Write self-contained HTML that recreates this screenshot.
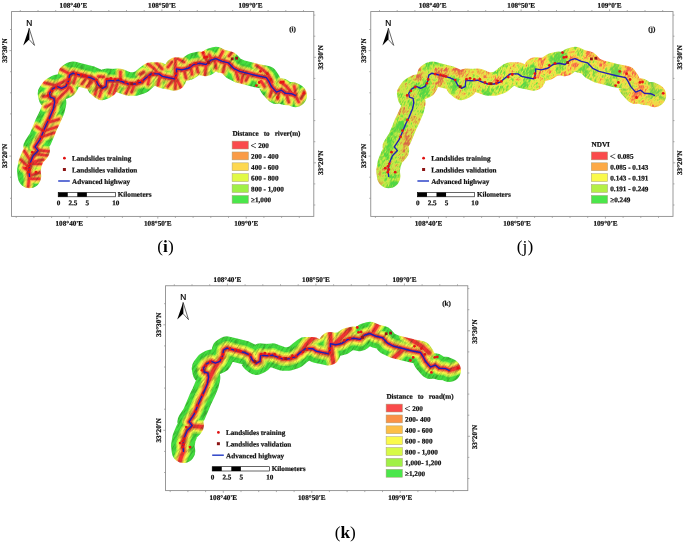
<!DOCTYPE html>
<html><head><meta charset="utf-8"><title>Figure</title>
<style>
html,body{margin:0;padding:0;background:#fff}
svg{display:block}
.lb{font:bold 7.2px "Liberation Serif",serif;fill:#111;stroke:#111;stroke-width:0.22px}
.lg{font:bold 7.15px "Liberation Serif",serif;fill:#111;stroke:#111;stroke-width:0.22px}
.ltt{font-weight:normal;font-size:10.5px;stroke-width:0.1px}
.cap{font:17.3px "Liberation Serif",serif;fill:#000}
.cap .b{font-weight:bold}
</style></head><body>
<svg width="685" height="542" viewBox="0 0 685 542">
<defs>
<mask id="bufmask" maskUnits="userSpaceOnUse" x="0" y="0" width="330" height="230">
<path d="M29.5,176.4 L28.8,170.7 L30.1,163.2 L33.2,155.7 L38.2,150.6 L35.1,146.9 L40.1,139.3 L43.3,131.8 L46.4,124.3 L49.5,118.0 L53.3,109.0 L54.6,102.7 L53.9,98.3 L50.2,97.1 L49.5,93.3 L52.7,88.9 L57.1,86.4 L61.5,88.3 L65.9,86.4 L68.4,81.4 L69.6,75.1 L72.8,73.2 L80.3,75.1 L90.4,77.6 L96.0,80.2 L98.5,85.2 L102.3,88.3 L106.0,86.5 L106.7,80.2 L112.3,80.8 L118.6,80.2 L123.0,82.0 L128.6,84.0 L135.0,84.0 L141.2,82.0 L146.2,77.7 L151.2,73.9 L158.8,73.9 L162.5,76.4 L168.8,77.7 L174.5,78.9 L176.4,73.9 L176.4,68.9 L182.0,69.9 L188.3,68.3 L193.9,64.5 L199.6,63.3 L205.9,64.5 L210.9,60.1 L215.9,58.6 L222.2,61.4 L228.5,62.9 L233.5,68.3 L239.8,71.4 L249.8,73.9 L257.3,75.8 L266.4,77.6 L268.9,81.4 L271.4,86.4 L276.4,92.1 L281.4,90.2 L285.2,93.3 L291.5,93.7 L295.2,95.4" fill="none" stroke="#fff" stroke-width="23.5" stroke-linecap="round" stroke-linejoin="round"/>
</mask>
<filter id="bl" x="-5%" y="-5%" width="110%" height="110%"><feGaussianBlur stdDeviation="0.55"/></filter>
<linearGradient id="jbias" gradientUnits="userSpaceOnUse" x1="20" y1="0" x2="300" y2="0">
<stop offset="0" stop-color="#46d23c" stop-opacity="0.22"/>
<stop offset="0.45" stop-color="#8cdc3c" stop-opacity="0.05"/>
<stop offset="0.6" stop-color="#f0c846" stop-opacity="0.08"/>
<stop offset="1" stop-color="#f5b446" stop-opacity="0.22"/>
</linearGradient>
<pattern id="hatch" width="3" height="3" patternUnits="userSpaceOnUse" patternTransform="rotate(35)">
<rect width="3" height="1" fill="#000" opacity="0.07"/>
</pattern>
<filter id="shade" x="0" y="0" width="100%" height="100%" color-interpolation-filters="sRGB">
<feTurbulence type="fractalNoise" baseFrequency="0.55 0.14" numOctaves="2" seed="8"/>
<feColorMatrix type="matrix" values="0 0 0 0 0.1  0 0 0 0 0.25  0 0 0 0 0.05  1.15 0 0 0 -0.49"/>
</filter>
<filter id="ndvi" x="0" y="0" width="100%" height="100%" color-interpolation-filters="sRGB">
<feTurbulence type="fractalNoise" baseFrequency="0.07 0.06" numOctaves="2" seed="3"/>
<feColorMatrix type="matrix" values="1 0 0 0 0  1 0 0 0 0  1 0 0 0 0  0 0 0 0 1" result="lo"/>
<feTurbulence type="fractalNoise" baseFrequency="0.75 0.28" numOctaves="2" seed="11"/>
<feColorMatrix type="matrix" values="1 0 0 0 0  1 0 0 0 0  1 0 0 0 0  0 0 0 0 1" result="hi"/>
<feComposite in="lo" in2="hi" operator="arithmetic" k1="0" k2="1.3" k3="1.0" k4="-0.62"/>
<feComponentTransfer>
<feFuncR type="table" tableValues="0.96 0.96 0.97 0.98 0.97 0.92 0.76 0.58 0.40 0.33 0.30"/>
<feFuncG type="table" tableValues="0.30 0.32 0.45 0.64 0.84 0.94 0.92 0.88 0.85 0.84 0.84"/>
<feFuncB type="table" tableValues="0.30 0.30 0.28 0.27 0.29 0.29 0.27 0.26 0.27 0.28 0.28"/>
<feFuncA type="linear" slope="0" intercept="1"/>
</feComponentTransfer>
</filter>
</defs>
<rect width="685" height="542" fill="#fff"/>
<g transform="translate(0,0)">
<rect x="11.55" y="11.55" width="302.25" height="204.85" fill="#fff" stroke="#8e8e8e" stroke-width="0.9"/>
<path d="M20.3,11.55 v-1.5 M16.2,216.4 v1.5 M38.0,11.55 v-1.5 M33.9,216.4 v1.5 M55.7,11.55 v-1.5 M51.6,216.4 v1.5 M73.4,11.55 v-2.2 M69.3,216.4 v2.2 M91.1,11.55 v-1.5 M87.0,216.4 v1.5 M108.8,11.55 v-1.5 M104.7,216.4 v1.5 M126.5,11.55 v-1.5 M122.4,216.4 v1.5 M144.2,11.55 v-1.5 M140.1,216.4 v1.5 M161.9,11.55 v-2.2 M157.8,216.4 v2.2 M179.6,11.55 v-1.5 M175.4,216.4 v1.5 M197.3,11.55 v-1.5 M193.1,216.4 v1.5 M215.0,11.55 v-1.5 M210.8,216.4 v1.5 M232.7,11.55 v-1.5 M228.5,216.4 v1.5 M250.4,11.55 v-2.2 M246.2,216.4 v2.2 M268.1,11.55 v-1.5 M263.9,216.4 v1.5 M285.8,11.55 v-1.5 M281.6,216.4 v1.5 M303.5,11.55 v-1.5 M299.3,216.4 v1.5 M11.55,29.5 h-1.5 M11.55,50.6 h-2.2 M11.55,71.7 h-1.5 M11.55,92.8 h-1.5 M11.55,113.9 h-1.5 M11.55,135.0 h-1.5 M11.55,156.1 h-2.2 M11.55,177.2 h-1.5 M11.55,198.3 h-1.5 M313.8,15.1 h1.5 M313.8,36.2 h1.5 M313.8,57.3 h2.2 M313.8,78.4 h1.5 M313.8,99.5 h1.5 M313.8,120.6 h1.5 M313.8,141.7 h1.5 M313.8,162.8 h2.2 M313.8,183.9 h1.5 M313.8,205.0 h1.5" stroke="#8e8e8e" stroke-width="0.7" fill="none"/>
<text class="lb" text-anchor="middle" transform="translate(73.4,7.8) rotate(0.03)">108°40'E</text>
<text class="lb" text-anchor="middle" transform="translate(69.3,225.7) rotate(0.03)">108°40'E</text>
<text class="lb" text-anchor="middle" transform="translate(161.9,7.8) rotate(0.03)">108°50'E</text>
<text class="lb" text-anchor="middle" transform="translate(157.8,225.7) rotate(0.03)">108°50'E</text>
<text class="lb" text-anchor="middle" transform="translate(250.4,7.8) rotate(0.03)">109°0'E</text>
<text class="lb" text-anchor="middle" transform="translate(246.2,225.7) rotate(0.03)">109°0'E</text>
<text class="lb" text-anchor="middle" transform="translate(6.9,50.6) rotate(-90) rotate(0.03)">33°30'N</text>
<text class="lb" text-anchor="middle" transform="translate(322.9,57.3) rotate(-90) rotate(0.03)">33°30'N</text>
<text class="lb" text-anchor="middle" transform="translate(6.9,156.1) rotate(-90) rotate(0.03)">33°20'N</text>
<text class="lb" text-anchor="middle" transform="translate(322.9,162.8) rotate(-90) rotate(0.03)">33°20'N</text>
<g transform="translate(0,0)">
<g mask="url(#bufmask)">
<rect x="10" y="40" width="300" height="155" fill="#44de40"/>
<g filter="url(#bl)" fill="none" stroke-linecap="round" stroke-linejoin="round">
<path d="M29.5,176.4 L28.8,170.7 L30.1,163.2 L33.2,155.7 L38.2,150.6 L35.1,146.9 L40.1,139.3 L43.3,131.8 L46.4,124.3 L49.5,118.0 L53.3,109.0 L54.6,102.7 L53.9,98.3 L50.2,97.1 L49.5,93.3 L52.7,88.9 L57.1,86.4 L61.5,88.3 L65.9,86.4 L68.4,81.4 L69.6,75.1 L72.8,73.2 L80.3,75.1 L90.4,77.6 L96.0,80.2 L98.5,85.2 L102.3,88.3 L106.0,86.5 L106.7,80.2 L112.3,80.8 L118.6,80.2 L123.0,82.0 L128.6,84.0 L135.0,84.0 L141.2,82.0 L146.2,77.7 L151.2,73.9 L158.8,73.9 L162.5,76.4 L168.8,77.7 L174.5,78.9 L176.4,73.9 L176.4,68.9 L182.0,69.9 L188.3,68.3 L193.9,64.5 L199.6,63.3 L205.9,64.5 L210.9,60.1 L215.9,58.6 L222.2,61.4 L228.5,62.9 L233.5,68.3 L239.8,71.4 L249.8,73.9 L257.3,75.8 L266.4,77.6 L268.9,81.4 L271.4,86.4 L276.4,92.1 L281.4,90.2 L285.2,93.3 L291.5,93.7 L295.2,95.4" stroke="#a0f046" stroke-width="12.6"/>
<path d="M59.9,68.8 L68.7,73.3 M44.4,82.7 L55.5,85.4 L63.0,82.0 L68.0,79.0 M43.3,96.5 L49.9,96.0 M69.9,87.1 L57.7,99.3 L56.6,102.6 M45.5,107.0 L52.1,103.7 M71.0,88.2 L72.0,91.5 M85.4,79.4 L82.0,83.8 M76.0,76.0 L73.5,83.0 M91.0,78.5 L88.5,86.0 M48.7,122.2 L58.7,119.4 M44.3,131.0 L57.6,126.6 M42.1,136.6 L54.3,132.7 M43.2,131.0 L36.6,126.6 M37.4,150.0 L49.3,151.5 M37.7,154.3 L47.6,155.4 M24.4,151.0 L29.9,159.8 L31.0,165.4 M21.0,159.8 L26.6,165.4 M32.1,162.0 L43.2,159.8 M29.4,175.4 L28.2,186.5 M31.6,163.8 L41.5,163.8 M30.5,175.4 L41.5,172.0 M29.4,178.7 L39.3,178.7 M23.8,167.7 L28.8,171.0 M120.4,72.0 L120.4,79.0 M98.3,76.6 L103.8,77.1 M91.6,82.1 L87.2,86.5 M97.2,87.6 L95.0,94.3 M101.6,89.9 L99.4,96.5 M112.7,84.3 L109.4,93.2 M117.1,84.3 L113.8,94.3 M129.3,86.5 L126.0,93.2 M133.7,86.5 L131.5,92.1 M140.4,74.4 L143.7,72.1 M147.7,63.8 L154.4,68.8 L157.7,73.2 M156.6,63.2 L162.1,68.8 M175.4,57.7 L175.4,88.7 M172.0,62.0 L168.0,67.0 M178.0,59.0 L184.0,62.0 M174.3,78.8 L167.7,86.5 M176.5,78.8 L181.0,87.6 M190.9,66.6 L192.0,74.3 M202.7,52.7 L207.2,61.6 M209.4,55.0 L211.6,59.4 M222.7,51.6 L219.4,58.2 M215.0,60.5 L216.0,68.2 M206.0,66.0 L205.0,74.9 M225.0,64.0 L223.0,72.0 M229.0,56.0 L233.0,51.0 M236.0,71.5 L238.2,79.3 M243.0,74.0 L241.5,82.0 M249.2,73.7 L246.0,80.4 M256.6,65.5 L264.4,71.0 L268.8,75.5 L272.1,82.1 M261.0,81.0 L264.4,86.5 M272.1,88.7 L270.0,96.5 M278.8,92.1 L277.7,98.7 M281.0,82.1 L286.5,86.5 L291.0,92.1 M294.3,86.5 L295.4,94.3 M295.4,95.4 L298.7,102.0 M304.2,92.1 L301.0,98.7 M286.5,94.3 L288.7,102.0 M150.0,75.0 L148.0,84.0 M160.0,75.5 L158.0,85.0 M184.0,70.0 L186.0,78.0 M196.0,64.0 L198.0,72.0" stroke="#a0f046" stroke-width="10.7"/>
<path d="M29.5,176.4 L28.8,170.7 L30.1,163.2 L33.2,155.7 L38.2,150.6 L35.1,146.9 L40.1,139.3 L43.3,131.8 L46.4,124.3 L49.5,118.0 L53.3,109.0 L54.6,102.7 L53.9,98.3 L50.2,97.1 L49.5,93.3 L52.7,88.9 L57.1,86.4 L61.5,88.3 L65.9,86.4 L68.4,81.4 L69.6,75.1 L72.8,73.2 L80.3,75.1 L90.4,77.6 L96.0,80.2 L98.5,85.2 L102.3,88.3 L106.0,86.5 L106.7,80.2 L112.3,80.8 L118.6,80.2 L123.0,82.0 L128.6,84.0 L135.0,84.0 L141.2,82.0 L146.2,77.7 L151.2,73.9 L158.8,73.9 L162.5,76.4 L168.8,77.7 L174.5,78.9 L176.4,73.9 L176.4,68.9 L182.0,69.9 L188.3,68.3 L193.9,64.5 L199.6,63.3 L205.9,64.5 L210.9,60.1 L215.9,58.6 L222.2,61.4 L228.5,62.9 L233.5,68.3 L239.8,71.4 L249.8,73.9 L257.3,75.8 L266.4,77.6 L268.9,81.4 L271.4,86.4 L276.4,92.1 L281.4,90.2 L285.2,93.3 L291.5,93.7 L295.2,95.4" stroke="#e1fa46" stroke-width="10.6"/>
<path d="M59.9,68.8 L68.7,73.3 M44.4,82.7 L55.5,85.4 L63.0,82.0 L68.0,79.0 M43.3,96.5 L49.9,96.0 M69.9,87.1 L57.7,99.3 L56.6,102.6 M45.5,107.0 L52.1,103.7 M71.0,88.2 L72.0,91.5 M85.4,79.4 L82.0,83.8 M76.0,76.0 L73.5,83.0 M91.0,78.5 L88.5,86.0 M48.7,122.2 L58.7,119.4 M44.3,131.0 L57.6,126.6 M42.1,136.6 L54.3,132.7 M43.2,131.0 L36.6,126.6 M37.4,150.0 L49.3,151.5 M37.7,154.3 L47.6,155.4 M24.4,151.0 L29.9,159.8 L31.0,165.4 M21.0,159.8 L26.6,165.4 M32.1,162.0 L43.2,159.8 M29.4,175.4 L28.2,186.5 M31.6,163.8 L41.5,163.8 M30.5,175.4 L41.5,172.0 M29.4,178.7 L39.3,178.7 M23.8,167.7 L28.8,171.0 M120.4,72.0 L120.4,79.0 M98.3,76.6 L103.8,77.1 M91.6,82.1 L87.2,86.5 M97.2,87.6 L95.0,94.3 M101.6,89.9 L99.4,96.5 M112.7,84.3 L109.4,93.2 M117.1,84.3 L113.8,94.3 M129.3,86.5 L126.0,93.2 M133.7,86.5 L131.5,92.1 M140.4,74.4 L143.7,72.1 M147.7,63.8 L154.4,68.8 L157.7,73.2 M156.6,63.2 L162.1,68.8 M175.4,57.7 L175.4,88.7 M172.0,62.0 L168.0,67.0 M178.0,59.0 L184.0,62.0 M174.3,78.8 L167.7,86.5 M176.5,78.8 L181.0,87.6 M190.9,66.6 L192.0,74.3 M202.7,52.7 L207.2,61.6 M209.4,55.0 L211.6,59.4 M222.7,51.6 L219.4,58.2 M215.0,60.5 L216.0,68.2 M206.0,66.0 L205.0,74.9 M225.0,64.0 L223.0,72.0 M229.0,56.0 L233.0,51.0 M236.0,71.5 L238.2,79.3 M243.0,74.0 L241.5,82.0 M249.2,73.7 L246.0,80.4 M256.6,65.5 L264.4,71.0 L268.8,75.5 L272.1,82.1 M261.0,81.0 L264.4,86.5 M272.1,88.7 L270.0,96.5 M278.8,92.1 L277.7,98.7 M281.0,82.1 L286.5,86.5 L291.0,92.1 M294.3,86.5 L295.4,94.3 M295.4,95.4 L298.7,102.0 M304.2,92.1 L301.0,98.7 M286.5,94.3 L288.7,102.0 M150.0,75.0 L148.0,84.0 M160.0,75.5 L158.0,85.0 M184.0,70.0 L186.0,78.0 M196.0,64.0 L198.0,72.0" stroke="#e1fa46" stroke-width="8.7"/>
<path d="M29.5,176.4 L28.8,170.7 L30.1,163.2 L33.2,155.7 L38.2,150.6 L35.1,146.9 L40.1,139.3 L43.3,131.8 L46.4,124.3 L49.5,118.0 L53.3,109.0 L54.6,102.7 L53.9,98.3 L50.2,97.1 L49.5,93.3 L52.7,88.9 L57.1,86.4 L61.5,88.3 L65.9,86.4 L68.4,81.4 L69.6,75.1 L72.8,73.2 L80.3,75.1 L90.4,77.6 L96.0,80.2 L98.5,85.2 L102.3,88.3 L106.0,86.5 L106.7,80.2 L112.3,80.8 L118.6,80.2 L123.0,82.0 L128.6,84.0 L135.0,84.0 L141.2,82.0 L146.2,77.7 L151.2,73.9 L158.8,73.9 L162.5,76.4 L168.8,77.7 L174.5,78.9 L176.4,73.9 L176.4,68.9 L182.0,69.9 L188.3,68.3 L193.9,64.5 L199.6,63.3 L205.9,64.5 L210.9,60.1 L215.9,58.6 L222.2,61.4 L228.5,62.9 L233.5,68.3 L239.8,71.4 L249.8,73.9 L257.3,75.8 L266.4,77.6 L268.9,81.4 L271.4,86.4 L276.4,92.1 L281.4,90.2 L285.2,93.3 L291.5,93.7 L295.2,95.4" stroke="#fdd850" stroke-width="8.5"/>
<path d="M59.9,68.8 L68.7,73.3 M44.4,82.7 L55.5,85.4 L63.0,82.0 L68.0,79.0 M43.3,96.5 L49.9,96.0 M69.9,87.1 L57.7,99.3 L56.6,102.6 M45.5,107.0 L52.1,103.7 M71.0,88.2 L72.0,91.5 M85.4,79.4 L82.0,83.8 M76.0,76.0 L73.5,83.0 M91.0,78.5 L88.5,86.0 M48.7,122.2 L58.7,119.4 M44.3,131.0 L57.6,126.6 M42.1,136.6 L54.3,132.7 M43.2,131.0 L36.6,126.6 M37.4,150.0 L49.3,151.5 M37.7,154.3 L47.6,155.4 M24.4,151.0 L29.9,159.8 L31.0,165.4 M21.0,159.8 L26.6,165.4 M32.1,162.0 L43.2,159.8 M29.4,175.4 L28.2,186.5 M31.6,163.8 L41.5,163.8 M30.5,175.4 L41.5,172.0 M29.4,178.7 L39.3,178.7 M23.8,167.7 L28.8,171.0 M120.4,72.0 L120.4,79.0 M98.3,76.6 L103.8,77.1 M91.6,82.1 L87.2,86.5 M97.2,87.6 L95.0,94.3 M101.6,89.9 L99.4,96.5 M112.7,84.3 L109.4,93.2 M117.1,84.3 L113.8,94.3 M129.3,86.5 L126.0,93.2 M133.7,86.5 L131.5,92.1 M140.4,74.4 L143.7,72.1 M147.7,63.8 L154.4,68.8 L157.7,73.2 M156.6,63.2 L162.1,68.8 M175.4,57.7 L175.4,88.7 M172.0,62.0 L168.0,67.0 M178.0,59.0 L184.0,62.0 M174.3,78.8 L167.7,86.5 M176.5,78.8 L181.0,87.6 M190.9,66.6 L192.0,74.3 M202.7,52.7 L207.2,61.6 M209.4,55.0 L211.6,59.4 M222.7,51.6 L219.4,58.2 M215.0,60.5 L216.0,68.2 M206.0,66.0 L205.0,74.9 M225.0,64.0 L223.0,72.0 M229.0,56.0 L233.0,51.0 M236.0,71.5 L238.2,79.3 M243.0,74.0 L241.5,82.0 M249.2,73.7 L246.0,80.4 M256.6,65.5 L264.4,71.0 L268.8,75.5 L272.1,82.1 M261.0,81.0 L264.4,86.5 M272.1,88.7 L270.0,96.5 M278.8,92.1 L277.7,98.7 M281.0,82.1 L286.5,86.5 L291.0,92.1 M294.3,86.5 L295.4,94.3 M295.4,95.4 L298.7,102.0 M304.2,92.1 L301.0,98.7 M286.5,94.3 L288.7,102.0 M150.0,75.0 L148.0,84.0 M160.0,75.5 L158.0,85.0 M184.0,70.0 L186.0,78.0 M196.0,64.0 L198.0,72.0" stroke="#fdd850" stroke-width="6.6"/>
<path d="M29.5,176.4 L28.8,170.7 L30.1,163.2 L33.2,155.7 L38.2,150.6 L35.1,146.9 L40.1,139.3 L43.3,131.8 L46.4,124.3 L49.5,118.0 L53.3,109.0 L54.6,102.7 L53.9,98.3 L50.2,97.1 L49.5,93.3 L52.7,88.9 L57.1,86.4 L61.5,88.3 L65.9,86.4 L68.4,81.4 L69.6,75.1 L72.8,73.2 L80.3,75.1 L90.4,77.6 L96.0,80.2 L98.5,85.2 L102.3,88.3 L106.0,86.5 L106.7,80.2 L112.3,80.8 L118.6,80.2 L123.0,82.0 L128.6,84.0 L135.0,84.0 L141.2,82.0 L146.2,77.7 L151.2,73.9 L158.8,73.9 L162.5,76.4 L168.8,77.7 L174.5,78.9 L176.4,73.9 L176.4,68.9 L182.0,69.9 L188.3,68.3 L193.9,64.5 L199.6,63.3 L205.9,64.5 L210.9,60.1 L215.9,58.6 L222.2,61.4 L228.5,62.9 L233.5,68.3 L239.8,71.4 L249.8,73.9 L257.3,75.8 L266.4,77.6 L268.9,81.4 L271.4,86.4 L276.4,92.1 L281.4,90.2 L285.2,93.3 L291.5,93.7 L295.2,95.4" stroke="#fa9b46" stroke-width="6.4"/>
<path d="M59.9,68.8 L68.7,73.3 M44.4,82.7 L55.5,85.4 L63.0,82.0 L68.0,79.0 M43.3,96.5 L49.9,96.0 M69.9,87.1 L57.7,99.3 L56.6,102.6 M45.5,107.0 L52.1,103.7 M71.0,88.2 L72.0,91.5 M85.4,79.4 L82.0,83.8 M76.0,76.0 L73.5,83.0 M91.0,78.5 L88.5,86.0 M48.7,122.2 L58.7,119.4 M44.3,131.0 L57.6,126.6 M42.1,136.6 L54.3,132.7 M43.2,131.0 L36.6,126.6 M37.4,150.0 L49.3,151.5 M37.7,154.3 L47.6,155.4 M24.4,151.0 L29.9,159.8 L31.0,165.4 M21.0,159.8 L26.6,165.4 M32.1,162.0 L43.2,159.8 M29.4,175.4 L28.2,186.5 M31.6,163.8 L41.5,163.8 M30.5,175.4 L41.5,172.0 M29.4,178.7 L39.3,178.7 M23.8,167.7 L28.8,171.0 M120.4,72.0 L120.4,79.0 M98.3,76.6 L103.8,77.1 M91.6,82.1 L87.2,86.5 M97.2,87.6 L95.0,94.3 M101.6,89.9 L99.4,96.5 M112.7,84.3 L109.4,93.2 M117.1,84.3 L113.8,94.3 M129.3,86.5 L126.0,93.2 M133.7,86.5 L131.5,92.1 M140.4,74.4 L143.7,72.1 M147.7,63.8 L154.4,68.8 L157.7,73.2 M156.6,63.2 L162.1,68.8 M175.4,57.7 L175.4,88.7 M172.0,62.0 L168.0,67.0 M178.0,59.0 L184.0,62.0 M174.3,78.8 L167.7,86.5 M176.5,78.8 L181.0,87.6 M190.9,66.6 L192.0,74.3 M202.7,52.7 L207.2,61.6 M209.4,55.0 L211.6,59.4 M222.7,51.6 L219.4,58.2 M215.0,60.5 L216.0,68.2 M206.0,66.0 L205.0,74.9 M225.0,64.0 L223.0,72.0 M229.0,56.0 L233.0,51.0 M236.0,71.5 L238.2,79.3 M243.0,74.0 L241.5,82.0 M249.2,73.7 L246.0,80.4 M256.6,65.5 L264.4,71.0 L268.8,75.5 L272.1,82.1 M261.0,81.0 L264.4,86.5 M272.1,88.7 L270.0,96.5 M278.8,92.1 L277.7,98.7 M281.0,82.1 L286.5,86.5 L291.0,92.1 M294.3,86.5 L295.4,94.3 M295.4,95.4 L298.7,102.0 M304.2,92.1 L301.0,98.7 M286.5,94.3 L288.7,102.0 M150.0,75.0 L148.0,84.0 M160.0,75.5 L158.0,85.0 M184.0,70.0 L186.0,78.0 M196.0,64.0 L198.0,72.0" stroke="#fa9b46" stroke-width="4.5"/>
<path d="M29.5,176.4 L28.8,170.7 L30.1,163.2 L33.2,155.7 L38.2,150.6 L35.1,146.9 L40.1,139.3 L43.3,131.8 L46.4,124.3 L49.5,118.0 L53.3,109.0 L54.6,102.7 L53.9,98.3 L50.2,97.1 L49.5,93.3 L52.7,88.9 L57.1,86.4 L61.5,88.3 L65.9,86.4 L68.4,81.4 L69.6,75.1 L72.8,73.2 L80.3,75.1 L90.4,77.6 L96.0,80.2 L98.5,85.2 L102.3,88.3 L106.0,86.5 L106.7,80.2 L112.3,80.8 L118.6,80.2 L123.0,82.0 L128.6,84.0 L135.0,84.0 L141.2,82.0 L146.2,77.7 L151.2,73.9 L158.8,73.9 L162.5,76.4 L168.8,77.7 L174.5,78.9 L176.4,73.9 L176.4,68.9 L182.0,69.9 L188.3,68.3 L193.9,64.5 L199.6,63.3 L205.9,64.5 L210.9,60.1 L215.9,58.6 L222.2,61.4 L228.5,62.9 L233.5,68.3 L239.8,71.4 L249.8,73.9 L257.3,75.8 L266.4,77.6 L268.9,81.4 L271.4,86.4 L276.4,92.1 L281.4,90.2 L285.2,93.3 L291.5,93.7 L295.2,95.4" stroke="#f23232" stroke-width="4.4"/>
<path d="M59.9,68.8 L68.7,73.3 M44.4,82.7 L55.5,85.4 L63.0,82.0 L68.0,79.0 M43.3,96.5 L49.9,96.0 M69.9,87.1 L57.7,99.3 L56.6,102.6 M45.5,107.0 L52.1,103.7 M71.0,88.2 L72.0,91.5 M85.4,79.4 L82.0,83.8 M76.0,76.0 L73.5,83.0 M91.0,78.5 L88.5,86.0 M48.7,122.2 L58.7,119.4 M44.3,131.0 L57.6,126.6 M42.1,136.6 L54.3,132.7 M43.2,131.0 L36.6,126.6 M37.4,150.0 L49.3,151.5 M37.7,154.3 L47.6,155.4 M24.4,151.0 L29.9,159.8 L31.0,165.4 M21.0,159.8 L26.6,165.4 M32.1,162.0 L43.2,159.8 M29.4,175.4 L28.2,186.5 M31.6,163.8 L41.5,163.8 M30.5,175.4 L41.5,172.0 M29.4,178.7 L39.3,178.7 M23.8,167.7 L28.8,171.0 M120.4,72.0 L120.4,79.0 M98.3,76.6 L103.8,77.1 M91.6,82.1 L87.2,86.5 M97.2,87.6 L95.0,94.3 M101.6,89.9 L99.4,96.5 M112.7,84.3 L109.4,93.2 M117.1,84.3 L113.8,94.3 M129.3,86.5 L126.0,93.2 M133.7,86.5 L131.5,92.1 M140.4,74.4 L143.7,72.1 M147.7,63.8 L154.4,68.8 L157.7,73.2 M156.6,63.2 L162.1,68.8 M175.4,57.7 L175.4,88.7 M172.0,62.0 L168.0,67.0 M178.0,59.0 L184.0,62.0 M174.3,78.8 L167.7,86.5 M176.5,78.8 L181.0,87.6 M190.9,66.6 L192.0,74.3 M202.7,52.7 L207.2,61.6 M209.4,55.0 L211.6,59.4 M222.7,51.6 L219.4,58.2 M215.0,60.5 L216.0,68.2 M206.0,66.0 L205.0,74.9 M225.0,64.0 L223.0,72.0 M229.0,56.0 L233.0,51.0 M236.0,71.5 L238.2,79.3 M243.0,74.0 L241.5,82.0 M249.2,73.7 L246.0,80.4 M256.6,65.5 L264.4,71.0 L268.8,75.5 L272.1,82.1 M261.0,81.0 L264.4,86.5 M272.1,88.7 L270.0,96.5 M278.8,92.1 L277.7,98.7 M281.0,82.1 L286.5,86.5 L291.0,92.1 M294.3,86.5 L295.4,94.3 M295.4,95.4 L298.7,102.0 M304.2,92.1 L301.0,98.7 M286.5,94.3 L288.7,102.0 M150.0,75.0 L148.0,84.0 M160.0,75.5 L158.0,85.0 M184.0,70.0 L186.0,78.0 M196.0,64.0 L198.0,72.0" stroke="#f23232" stroke-width="2.5"/>
</g>
<rect x="10" y="40" width="400" height="155" filter="url(#shade)" transform="skewX(-30)"/>
</g>
<path d="M29.5,176.4 L28.8,170.7 L30.1,163.2 L33.2,155.7 L38.2,150.6 L35.1,146.9 L40.1,139.3 L43.3,131.8 L46.4,124.3 L49.5,118.0 L53.3,109.0 L54.6,102.7 L53.9,98.3 L50.2,97.1 L49.5,93.3 L52.7,88.9 L57.1,86.4 L61.5,88.3 L65.9,86.4 L68.4,81.4 L69.6,75.1 L72.8,73.2 L80.3,75.1 L90.4,77.6 L96.0,80.2 L98.5,85.2 L102.3,88.3 L106.0,86.5 L106.7,80.2 L112.3,80.8 L118.6,80.2 L123.0,82.0 L128.6,84.0 L135.0,84.0 L141.2,82.0 L146.2,77.7 L151.2,73.9 L158.8,73.9 L162.5,76.4 L168.8,77.7 L174.5,78.9 L176.4,73.9 L176.4,68.9 L182.0,69.9 L188.3,68.3 L193.9,64.5 L199.6,63.3 L205.9,64.5 L210.9,60.1 L215.9,58.6 L222.2,61.4 L228.5,62.9 L233.5,68.3 L239.8,71.4 L249.8,73.9 L257.3,75.8 L266.4,77.6 L268.9,81.4 L271.4,86.4 L276.4,92.1 L281.4,90.2 L285.2,93.3 L291.5,93.7 L295.2,95.4" fill="none" stroke="#1e1eb4" stroke-width="1.4" stroke-linejoin="round" stroke-linecap="round"/>
<g fill="#e61414"><circle cx="48.3" cy="119.9" r="1.4"/><circle cx="43.3" cy="130.6" r="1.4"/><circle cx="41.4" cy="136.8" r="1.4"/><circle cx="32.3" cy="152.2" r="1.4"/><circle cx="30.1" cy="163.8" r="1.4"/><circle cx="28.8" cy="166.3" r="1.4"/><circle cx="26.1" cy="168.2" r="1.4"/><circle cx="29.5" cy="169.5" r="1.4"/><circle cx="28.6" cy="172.2" r="1.4"/><circle cx="36" cy="172.2" r="1.4"/><circle cx="48" cy="95.4" r="1.4"/><circle cx="51.7" cy="90.8" r="1.4"/><circle cx="56.1" cy="87" r="1.4"/><circle cx="67.8" cy="83.3" r="1.4"/><circle cx="69" cy="79.5" r="1.4"/><circle cx="75.9" cy="74.1" r="1.4"/><circle cx="81.3" cy="74.9" r="1.4"/><circle cx="84.1" cy="75.7" r="1.4"/><circle cx="86.6" cy="76.4" r="1.4"/><circle cx="96" cy="80.1" r="1.4"/><circle cx="107.3" cy="79.2" r="1.4"/><circle cx="110.8" cy="78.3" r="1.4"/><circle cx="115.1" cy="79.5" r="1.4"/><circle cx="120.7" cy="79.5" r="1.4"/><circle cx="125.8" cy="82.4" r="1.4"/><circle cx="129.9" cy="83.7" r="1.4"/><circle cx="137.2" cy="83.3" r="1.4"/><circle cx="138.4" cy="80.8" r="1.4"/><circle cx="142.2" cy="81.4" r="1.4"/><circle cx="149" cy="77" r="1.4"/><circle cx="153.1" cy="74.5" r="1.4"/><circle cx="175.7" cy="73.6" r="1.4"/><circle cx="175.7" cy="77.7" r="1.4"/><circle cx="203.3" cy="52.6" r="1.4"/><circle cx="204.6" cy="57.4" r="1.4"/><circle cx="207.1" cy="57" r="1.4"/><circle cx="190.2" cy="65.4" r="1.4"/><circle cx="195.8" cy="63.3" r="1.4"/><circle cx="260.5" cy="71.4" r="1.4"/><circle cx="267.4" cy="73.7" r="1.4"/><circle cx="259.2" cy="82.5" r="1.4"/><circle cx="256.4" cy="85.6" r="1.4"/><circle cx="270.8" cy="79.5" r="1.4"/><circle cx="280.8" cy="82.4" r="1.4"/><circle cx="283.3" cy="82" r="1.4"/><circle cx="277.4" cy="97.5" r="1.4"/><circle cx="304" cy="93.3" r="1.4"/></g><g fill="#961414"><rect x="99.6" y="85.3" width="2.8" height="2.8"/><rect x="130.4" y="82.3" width="2.8" height="2.8"/><rect x="230.8" y="57.5" width="2.8" height="2.8"/><rect x="235.2" y="56.8" width="2.8" height="2.8"/><rect x="207.1" y="61.1" width="2.8" height="2.8"/></g>
</g>
<text x="29.2" y="25.7" text-anchor="middle" style="font:8.4px 'Liberation Sans',sans-serif" fill="#000" stroke="#000" stroke-width="0.2">N</text><path d="M29.1,28.2 L23.2,45.4 L29.1,39.5 Z" fill="#000"/><path d="M29.1,28.2 L34.5,45.4 L29.1,39.5 Z" fill="#fff" stroke="#000" stroke-width="0.6" stroke-linejoin="miter"/>
<circle cx="64.4" cy="158.2" r="1.4" fill="#e01010"/>
<text class="lg" transform="translate(72,160.7) rotate(0.03)">Landslides training</text>
<rect x="62.9" y="168" width="3" height="3" fill="#8c1414"/>
<text class="lg" transform="translate(72,172.4) rotate(0.03)">Landslides validation</text>
<path d="M58.2,181 H69.8" stroke="#2e44c8" stroke-width="1.5"/>
<text class="lg" transform="translate(72,184) rotate(0.03)">Advanced highway</text>
<rect x="58.2" y="192.5" width="57.2" height="4.3" fill="#fff" stroke="#000" stroke-width="0.6"/>
<rect x="58.2" y="192.5" width="9.55" height="4.3" fill="#000"/>
<rect x="77.3" y="192.5" width="9.55" height="4.3" fill="#000"/>
<text class="lg" transform="translate(117.8,196.7) rotate(0.03)">Kilometers</text>
<text class="lg" text-anchor="middle" transform="translate(58.5,205.2) rotate(0.03)">0</text>
<text class="lg" text-anchor="middle" transform="translate(72.9,205.2) rotate(0.03)">2.5</text>
<text class="lg" text-anchor="middle" transform="translate(87.4,205.2) rotate(0.03)">5</text>
<text class="lg" text-anchor="middle" transform="translate(115.7,205.2) rotate(0.03)">10</text>
<text class="lg" style="word-spacing:3.3px" transform="translate(232.4,135.7) rotate(0.03)">Distance to river(m)</text>
<rect x="232.1" y="141.10" width="16.3" height="7.9" fill="#fa4b4b" stroke="#a8a078" stroke-width="0.5"/>
<text class="lg" transform="translate(251.1,147.90) rotate(0.03)"><tspan class="ltt" dy="1.0" dx="-0.5">&lt;</tspan><tspan dy="-1.0" dx="1.7">200</tspan></text>
<rect x="232.1" y="151.97" width="16.3" height="7.9" fill="#fa9b46" stroke="#a8a078" stroke-width="0.5"/>
<text class="lg" transform="translate(251.1,158.77) rotate(0.03)">200 - 400</text>
<rect x="232.1" y="162.84" width="16.3" height="7.9" fill="#fdd850" stroke="#a8a078" stroke-width="0.5"/>
<text class="lg" transform="translate(251.1,169.64) rotate(0.03)">400 - 600</text>
<rect x="232.1" y="173.71" width="16.3" height="7.9" fill="#e1fa46" stroke="#a8a078" stroke-width="0.5"/>
<text class="lg" transform="translate(251.1,180.51) rotate(0.03)">600 - 800</text>
<rect x="232.1" y="184.58" width="16.3" height="7.9" fill="#a0f046" stroke="#a8a078" stroke-width="0.5"/>
<text class="lg" transform="translate(251.1,191.38) rotate(0.03)">800 - 1,000</text>
<rect x="232.1" y="195.45" width="16.3" height="7.9" fill="#4be64b" stroke="#a8a078" stroke-width="0.5"/>
<text class="lg" transform="translate(251.1,202.25) rotate(0.03)">≥1,000</text>
<text class="lg" text-anchor="middle" transform="translate(292.6,31.6) rotate(0.03)">(i)</text>
</g>
<g transform="translate(359.2,0)">
<rect x="11.55" y="11.55" width="302.25" height="204.85" fill="#fff" stroke="#8e8e8e" stroke-width="0.9"/>
<path d="M20.3,11.55 v-1.5 M16.2,216.4 v1.5 M38.0,11.55 v-1.5 M33.9,216.4 v1.5 M55.7,11.55 v-1.5 M51.6,216.4 v1.5 M73.4,11.55 v-2.2 M69.3,216.4 v2.2 M91.1,11.55 v-1.5 M87.0,216.4 v1.5 M108.8,11.55 v-1.5 M104.7,216.4 v1.5 M126.5,11.55 v-1.5 M122.4,216.4 v1.5 M144.2,11.55 v-1.5 M140.1,216.4 v1.5 M161.9,11.55 v-2.2 M157.8,216.4 v2.2 M179.6,11.55 v-1.5 M175.4,216.4 v1.5 M197.3,11.55 v-1.5 M193.1,216.4 v1.5 M215.0,11.55 v-1.5 M210.8,216.4 v1.5 M232.7,11.55 v-1.5 M228.5,216.4 v1.5 M250.4,11.55 v-2.2 M246.2,216.4 v2.2 M268.1,11.55 v-1.5 M263.9,216.4 v1.5 M285.8,11.55 v-1.5 M281.6,216.4 v1.5 M303.5,11.55 v-1.5 M299.3,216.4 v1.5 M11.55,29.5 h-1.5 M11.55,50.6 h-2.2 M11.55,71.7 h-1.5 M11.55,92.8 h-1.5 M11.55,113.9 h-1.5 M11.55,135.0 h-1.5 M11.55,156.1 h-2.2 M11.55,177.2 h-1.5 M11.55,198.3 h-1.5 M313.8,15.1 h1.5 M313.8,36.2 h1.5 M313.8,57.3 h2.2 M313.8,78.4 h1.5 M313.8,99.5 h1.5 M313.8,120.6 h1.5 M313.8,141.7 h1.5 M313.8,162.8 h2.2 M313.8,183.9 h1.5 M313.8,205.0 h1.5" stroke="#8e8e8e" stroke-width="0.7" fill="none"/>
<text class="lb" text-anchor="middle" transform="translate(73.4,7.8) rotate(0.03)">108°40'E</text>
<text class="lb" text-anchor="middle" transform="translate(69.3,225.7) rotate(0.03)">108°40'E</text>
<text class="lb" text-anchor="middle" transform="translate(161.9,7.8) rotate(0.03)">108°50'E</text>
<text class="lb" text-anchor="middle" transform="translate(157.8,225.7) rotate(0.03)">108°50'E</text>
<text class="lb" text-anchor="middle" transform="translate(250.4,7.8) rotate(0.03)">109°0'E</text>
<text class="lb" text-anchor="middle" transform="translate(246.2,225.7) rotate(0.03)">109°0'E</text>
<text class="lb" text-anchor="middle" transform="translate(6.9,50.6) rotate(-90) rotate(0.03)">33°30'N</text>
<text class="lb" text-anchor="middle" transform="translate(322.9,57.3) rotate(-90) rotate(0.03)">33°30'N</text>
<text class="lb" text-anchor="middle" transform="translate(6.9,156.1) rotate(-90) rotate(0.03)">33°20'N</text>
<text class="lb" text-anchor="middle" transform="translate(322.9,162.8) rotate(-90) rotate(0.03)">33°20'N</text>
<g transform="translate(0,0)">
<g mask="url(#bufmask)">
<rect x="10" y="40" width="300" height="155" fill="#c8e646"/>
<rect x="10" y="40" width="400" height="155" filter="url(#ndvi)" transform="skewX(-18)"/>
<rect x="10" y="40" width="300" height="155" fill="url(#jbias)"/>
</g>
<path d="M29.5,176.4 L28.8,170.7 L30.1,163.2 L33.2,155.7 L38.2,150.6 L35.1,146.9 L40.1,139.3 L43.3,131.8 L46.4,124.3 L49.5,118.0 L53.3,109.0 L54.6,102.7 L53.9,98.3 L50.2,97.1 L49.5,93.3 L52.7,88.9 L57.1,86.4 L61.5,88.3 L65.9,86.4 L68.4,81.4 L69.6,75.1 L72.8,73.2 L80.3,75.1 L90.4,77.6 L96.0,80.2 L98.5,85.2 L102.3,88.3 L106.0,86.5 L106.7,80.2 L112.3,80.8 L118.6,80.2 L123.0,82.0 L128.6,84.0 L135.0,84.0 L141.2,82.0 L146.2,77.7 L151.2,73.9 L158.8,73.9 L162.5,76.4 L168.8,77.7 L174.5,78.9 L176.4,73.9 L176.4,68.9 L182.0,69.9 L188.3,68.3 L193.9,64.5 L199.6,63.3 L205.9,64.5 L210.9,60.1 L215.9,58.6 L222.2,61.4 L228.5,62.9 L233.5,68.3 L239.8,71.4 L249.8,73.9 L257.3,75.8 L266.4,77.6 L268.9,81.4 L271.4,86.4 L276.4,92.1 L281.4,90.2 L285.2,93.3 L291.5,93.7 L295.2,95.4" fill="none" stroke="#1e1eb4" stroke-width="1.4" stroke-linejoin="round" stroke-linecap="round"/>
<g fill="#e61414"><circle cx="48.3" cy="119.9" r="1.4"/><circle cx="43.3" cy="130.6" r="1.4"/><circle cx="41.4" cy="136.8" r="1.4"/><circle cx="32.3" cy="152.2" r="1.4"/><circle cx="30.1" cy="163.8" r="1.4"/><circle cx="28.8" cy="166.3" r="1.4"/><circle cx="26.1" cy="168.2" r="1.4"/><circle cx="29.5" cy="169.5" r="1.4"/><circle cx="28.6" cy="172.2" r="1.4"/><circle cx="36" cy="172.2" r="1.4"/><circle cx="48" cy="95.4" r="1.4"/><circle cx="51.7" cy="90.8" r="1.4"/><circle cx="56.1" cy="87" r="1.4"/><circle cx="67.8" cy="83.3" r="1.4"/><circle cx="69" cy="79.5" r="1.4"/><circle cx="75.9" cy="74.1" r="1.4"/><circle cx="81.3" cy="74.9" r="1.4"/><circle cx="84.1" cy="75.7" r="1.4"/><circle cx="86.6" cy="76.4" r="1.4"/><circle cx="96" cy="80.1" r="1.4"/><circle cx="107.3" cy="79.2" r="1.4"/><circle cx="110.8" cy="78.3" r="1.4"/><circle cx="115.1" cy="79.5" r="1.4"/><circle cx="120.7" cy="79.5" r="1.4"/><circle cx="125.8" cy="82.4" r="1.4"/><circle cx="129.9" cy="83.7" r="1.4"/><circle cx="137.2" cy="83.3" r="1.4"/><circle cx="138.4" cy="80.8" r="1.4"/><circle cx="142.2" cy="81.4" r="1.4"/><circle cx="149" cy="77" r="1.4"/><circle cx="153.1" cy="74.5" r="1.4"/><circle cx="175.7" cy="73.6" r="1.4"/><circle cx="175.7" cy="77.7" r="1.4"/><circle cx="203.3" cy="52.6" r="1.4"/><circle cx="204.6" cy="57.4" r="1.4"/><circle cx="207.1" cy="57" r="1.4"/><circle cx="190.2" cy="65.4" r="1.4"/><circle cx="195.8" cy="63.3" r="1.4"/><circle cx="260.5" cy="71.4" r="1.4"/><circle cx="267.4" cy="73.7" r="1.4"/><circle cx="259.2" cy="82.5" r="1.4"/><circle cx="256.4" cy="85.6" r="1.4"/><circle cx="270.8" cy="79.5" r="1.4"/><circle cx="280.8" cy="82.4" r="1.4"/><circle cx="283.3" cy="82" r="1.4"/><circle cx="277.4" cy="97.5" r="1.4"/><circle cx="304" cy="93.3" r="1.4"/></g><g fill="#961414"><rect x="99.6" y="85.3" width="2.8" height="2.8"/><rect x="130.4" y="82.3" width="2.8" height="2.8"/><rect x="230.8" y="57.5" width="2.8" height="2.8"/><rect x="235.2" y="56.8" width="2.8" height="2.8"/><rect x="207.1" y="61.1" width="2.8" height="2.8"/></g>
</g>
<text x="29.2" y="25.7" text-anchor="middle" style="font:8.4px 'Liberation Sans',sans-serif" fill="#000" stroke="#000" stroke-width="0.2">N</text><path d="M29.1,28.2 L23.2,45.4 L29.1,39.5 Z" fill="#000"/><path d="M29.1,28.2 L34.5,45.4 L29.1,39.5 Z" fill="#fff" stroke="#000" stroke-width="0.6" stroke-linejoin="miter"/>
<circle cx="64.4" cy="158.2" r="1.4" fill="#e01010"/>
<text class="lg" transform="translate(72,160.7) rotate(0.03)">Landslides training</text>
<rect x="62.9" y="168" width="3" height="3" fill="#8c1414"/>
<text class="lg" transform="translate(72,172.4) rotate(0.03)">Landslides validation</text>
<path d="M58.2,181 H69.8" stroke="#2e44c8" stroke-width="1.5"/>
<text class="lg" transform="translate(72,184) rotate(0.03)">Advanced highway</text>
<rect x="58.2" y="192.5" width="57.2" height="4.3" fill="#fff" stroke="#000" stroke-width="0.6"/>
<rect x="58.2" y="192.5" width="9.55" height="4.3" fill="#000"/>
<rect x="77.3" y="192.5" width="9.55" height="4.3" fill="#000"/>
<text class="lg" transform="translate(117.8,196.7) rotate(0.03)">Kilometers</text>
<text class="lg" text-anchor="middle" transform="translate(58.5,205.2) rotate(0.03)">0</text>
<text class="lg" text-anchor="middle" transform="translate(72.9,205.2) rotate(0.03)">2.5</text>
<text class="lg" text-anchor="middle" transform="translate(87.4,205.2) rotate(0.03)">5</text>
<text class="lg" text-anchor="middle" transform="translate(115.7,205.2) rotate(0.03)">10</text>
<text class="lg" style="word-spacing:3.3px" transform="translate(232.4,146.7) rotate(0.03)">NDVI</text>
<rect x="232.1" y="151.95" width="16.3" height="7.9" fill="#fa4b4b" stroke="#a8a078" stroke-width="0.5"/>
<text class="lg" transform="translate(251.1,158.75) rotate(0.03)"><tspan class="ltt" dy="1.0" dx="-0.5">&lt;</tspan><tspan dy="-1.0" dx="1.7">0.085</tspan></text>
<rect x="232.1" y="162.82" width="16.3" height="7.9" fill="#fdaa46" stroke="#a8a078" stroke-width="0.5"/>
<text class="lg" transform="translate(251.1,169.62) rotate(0.03)">0.085 - 0.143</text>
<rect x="232.1" y="173.69" width="16.3" height="7.9" fill="#fafa4b" stroke="#a8a078" stroke-width="0.5"/>
<text class="lg" transform="translate(251.1,180.49) rotate(0.03)">0.143 - 0.191</text>
<rect x="232.1" y="184.56" width="16.3" height="7.9" fill="#b4f046" stroke="#a8a078" stroke-width="0.5"/>
<text class="lg" transform="translate(251.1,191.36) rotate(0.03)">0.191 - 0.249</text>
<rect x="232.1" y="195.43" width="16.3" height="7.9" fill="#4be64b" stroke="#a8a078" stroke-width="0.5"/>
<text class="lg" transform="translate(251.1,202.23) rotate(0.03)">≥0.249</text>
<text class="lg" text-anchor="middle" transform="translate(292.6,31.6) rotate(0.03)">(j)</text>
</g>
<g transform="translate(154,274.2)">
<rect x="11.55" y="11.55" width="302.25" height="204.85" fill="#fff" stroke="#8e8e8e" stroke-width="0.9"/>
<path d="M20.3,11.55 v-1.5 M16.2,216.4 v1.5 M38.0,11.55 v-1.5 M33.9,216.4 v1.5 M55.7,11.55 v-1.5 M51.6,216.4 v1.5 M73.4,11.55 v-2.2 M69.3,216.4 v2.2 M91.1,11.55 v-1.5 M87.0,216.4 v1.5 M108.8,11.55 v-1.5 M104.7,216.4 v1.5 M126.5,11.55 v-1.5 M122.4,216.4 v1.5 M144.2,11.55 v-1.5 M140.1,216.4 v1.5 M161.9,11.55 v-2.2 M157.8,216.4 v2.2 M179.6,11.55 v-1.5 M175.4,216.4 v1.5 M197.3,11.55 v-1.5 M193.1,216.4 v1.5 M215.0,11.55 v-1.5 M210.8,216.4 v1.5 M232.7,11.55 v-1.5 M228.5,216.4 v1.5 M250.4,11.55 v-2.2 M246.2,216.4 v2.2 M268.1,11.55 v-1.5 M263.9,216.4 v1.5 M285.8,11.55 v-1.5 M281.6,216.4 v1.5 M303.5,11.55 v-1.5 M299.3,216.4 v1.5 M11.55,29.5 h-1.5 M11.55,50.6 h-2.2 M11.55,71.7 h-1.5 M11.55,92.8 h-1.5 M11.55,113.9 h-1.5 M11.55,135.0 h-1.5 M11.55,156.1 h-2.2 M11.55,177.2 h-1.5 M11.55,198.3 h-1.5 M313.8,14.4 h1.5 M313.8,35.5 h1.5 M313.8,56.6 h2.2 M313.8,77.7 h1.5 M313.8,98.8 h1.5 M313.8,119.9 h1.5 M313.8,141.0 h1.5 M313.8,162.1 h2.2 M313.8,183.2 h1.5 M313.8,204.3 h1.5" stroke="#8e8e8e" stroke-width="0.7" fill="none"/>
<text class="lb" text-anchor="middle" transform="translate(73.4,7.8) rotate(0.03)">108°40'E</text>
<text class="lb" text-anchor="middle" transform="translate(69.3,225.7) rotate(0.03)">108°40'E</text>
<text class="lb" text-anchor="middle" transform="translate(161.9,7.8) rotate(0.03)">108°50'E</text>
<text class="lb" text-anchor="middle" transform="translate(157.8,225.7) rotate(0.03)">108°50'E</text>
<text class="lb" text-anchor="middle" transform="translate(250.4,7.8) rotate(0.03)">109°0'E</text>
<text class="lb" text-anchor="middle" transform="translate(246.2,225.7) rotate(0.03)">109°0'E</text>
<text class="lb" text-anchor="middle" transform="translate(6.9,50.6) rotate(-90) rotate(0.03)">33°30'N</text>
<text class="lb" text-anchor="middle" transform="translate(322.9,57.3) rotate(-90) rotate(0.03)">33°30'N</text>
<text class="lb" text-anchor="middle" transform="translate(6.9,156.1) rotate(-90) rotate(0.03)">33°20'N</text>
<text class="lb" text-anchor="middle" transform="translate(322.9,162.8) rotate(-90) rotate(0.03)">33°20'N</text>
<g transform="translate(0,0.7)">
<g mask="url(#bufmask)">
<rect x="10" y="40" width="300" height="155" fill="#44de40"/>
<g filter="url(#bl)" fill="none" stroke-linecap="round" stroke-linejoin="round">
<path d="M29.5,176.4 L28.8,170.7 L30.1,163.2 L33.2,155.7 L38.2,150.6 L35.1,146.9 L40.1,139.3 L43.3,131.8 L46.4,124.3 L49.5,118.0 L53.3,109.0 L54.6,102.7 L53.9,98.3 L50.2,97.1 L49.5,93.3 L52.7,88.9 L57.1,86.4 L61.5,88.3 L65.9,86.4 L68.4,81.4 L69.6,75.1 L72.8,73.2 L80.3,75.1 L90.4,77.6 L96.0,80.2 L98.5,85.2 L102.3,88.3 L106.0,86.5 L106.7,80.2 L112.3,80.8 L118.6,80.2 L123.0,82.0 L128.6,84.0 L135.0,84.0 L141.2,82.0 L146.2,77.7 L151.2,73.9 L158.8,73.9 L162.5,76.4 L168.8,77.7 L174.5,78.9 L176.4,73.9 L176.4,68.9 L182.0,69.9 L188.3,68.3 L193.9,64.5 L199.6,63.3 L205.9,64.5 L210.9,60.1 L215.9,58.6 L222.2,61.4 L228.5,62.9 L233.5,68.3 L239.8,71.4 L249.8,73.9 L257.3,75.8 L266.4,77.6 L268.9,81.4 L271.4,86.4 L276.4,92.1 L281.4,90.2 L285.2,93.3 L291.5,93.7 L295.2,95.4 M53.5,108.0 L60.0,94.0 L68.4,81.4 M38.2,151.1 L50.5,152.3 M29.5,176.4 L27.5,181.0 L25.0,189.0 M219.7,56.1 L226.0,46.0 M249.8,73.7 L240.0,83.0 M252.0,61.0 L259.0,66.0 L268.0,71.4 L275.0,78.0 M295.2,95.4 L300.0,94.0 L308.0,91.0 M147.0,78.0 L152.0,70.0 L158.0,64.0 L166.0,60.0 M176.0,57.0 L177.0,69.0 L178.0,80.0 L180.0,92.0 M182.0,68.0 L188.0,62.0 L196.0,54.0" stroke="#a0f046" stroke-width="14"/>
<path d="M29.5,176.4 L28.8,170.7 L30.1,163.2 L33.2,155.7 L38.2,150.6 L35.1,146.9 L40.1,139.3 L43.3,131.8 L46.4,124.3 L49.5,118.0 L53.3,109.0 L54.6,102.7 L53.9,98.3 L50.2,97.1 L49.5,93.3 L52.7,88.9 L57.1,86.4 L61.5,88.3 L65.9,86.4 L68.4,81.4 L69.6,75.1 L72.8,73.2 L80.3,75.1 L90.4,77.6 L96.0,80.2 L98.5,85.2 L102.3,88.3 L106.0,86.5 L106.7,80.2 L112.3,80.8 L118.6,80.2 L123.0,82.0 L128.6,84.0 L135.0,84.0 L141.2,82.0 L146.2,77.7 L151.2,73.9 L158.8,73.9 L162.5,76.4 L168.8,77.7 L174.5,78.9 L176.4,73.9 L176.4,68.9 L182.0,69.9 L188.3,68.3 L193.9,64.5 L199.6,63.3 L205.9,64.5 L210.9,60.1 L215.9,58.6 L222.2,61.4 L228.5,62.9 L233.5,68.3 L239.8,71.4 L249.8,73.9 L257.3,75.8 L266.4,77.6 L268.9,81.4 L271.4,86.4 L276.4,92.1 L281.4,90.2 L285.2,93.3 L291.5,93.7 L295.2,95.4 M53.5,108.0 L60.0,94.0 L68.4,81.4 M38.2,151.1 L50.5,152.3 M29.5,176.4 L27.5,181.0 L25.0,189.0 M219.7,56.1 L226.0,46.0 M249.8,73.7 L240.0,83.0 M252.0,61.0 L259.0,66.0 L268.0,71.4 L275.0,78.0 M295.2,95.4 L300.0,94.0 L308.0,91.0 M147.0,78.0 L152.0,70.0 L158.0,64.0 L166.0,60.0 M176.0,57.0 L177.0,69.0 L178.0,80.0 L180.0,92.0 M182.0,68.0 L188.0,62.0 L196.0,54.0" stroke="#d7fa46" stroke-width="11.8"/>
<path d="M29.5,176.4 L28.8,170.7 L30.1,163.2 L33.2,155.7 L38.2,150.6 L35.1,146.9 L40.1,139.3 L43.3,131.8 L46.4,124.3 L49.5,118.0 L53.3,109.0 L54.6,102.7 L53.9,98.3 L50.2,97.1 L49.5,93.3 L52.7,88.9 L57.1,86.4 L61.5,88.3 L65.9,86.4 L68.4,81.4 L69.6,75.1 L72.8,73.2 L80.3,75.1 L90.4,77.6 L96.0,80.2 L98.5,85.2 L102.3,88.3 L106.0,86.5 L106.7,80.2 L112.3,80.8 L118.6,80.2 L123.0,82.0 L128.6,84.0 L135.0,84.0 L141.2,82.0 L146.2,77.7 L151.2,73.9 L158.8,73.9 L162.5,76.4 L168.8,77.7 L174.5,78.9 L176.4,73.9 L176.4,68.9 L182.0,69.9 L188.3,68.3 L193.9,64.5 L199.6,63.3 L205.9,64.5 L210.9,60.1 L215.9,58.6 L222.2,61.4 L228.5,62.9 L233.5,68.3 L239.8,71.4 L249.8,73.9 L257.3,75.8 L266.4,77.6 L268.9,81.4 L271.4,86.4 L276.4,92.1 L281.4,90.2 L285.2,93.3 L291.5,93.7 L295.2,95.4 M53.5,108.0 L60.0,94.0 L68.4,81.4 M38.2,151.1 L50.5,152.3 M29.5,176.4 L27.5,181.0 L25.0,189.0 M219.7,56.1 L226.0,46.0 M249.8,73.7 L240.0,83.0 M252.0,61.0 L259.0,66.0 L268.0,71.4 L275.0,78.0 M295.2,95.4 L300.0,94.0 L308.0,91.0 M147.0,78.0 L152.0,70.0 L158.0,64.0 L166.0,60.0 M176.0,57.0 L177.0,69.0 L178.0,80.0 L180.0,92.0 M182.0,68.0 L188.0,62.0 L196.0,54.0" stroke="#fafa4b" stroke-width="9.6"/>
<path d="M29.5,176.4 L28.8,170.7 L30.1,163.2 L33.2,155.7 L38.2,150.6 L35.1,146.9 L40.1,139.3 L43.3,131.8 L46.4,124.3 L49.5,118.0 L53.3,109.0 L54.6,102.7 L53.9,98.3 L50.2,97.1 L49.5,93.3 L52.7,88.9 L57.1,86.4 L61.5,88.3 L65.9,86.4 L68.4,81.4 L69.6,75.1 L72.8,73.2 L80.3,75.1 L90.4,77.6 L96.0,80.2 L98.5,85.2 L102.3,88.3 L106.0,86.5 L106.7,80.2 L112.3,80.8 L118.6,80.2 L123.0,82.0 L128.6,84.0 L135.0,84.0 L141.2,82.0 L146.2,77.7 L151.2,73.9 L158.8,73.9 L162.5,76.4 L168.8,77.7 L174.5,78.9 L176.4,73.9 L176.4,68.9 L182.0,69.9 L188.3,68.3 L193.9,64.5 L199.6,63.3 L205.9,64.5 L210.9,60.1 L215.9,58.6 L222.2,61.4 L228.5,62.9 L233.5,68.3 L239.8,71.4 L249.8,73.9 L257.3,75.8 L266.4,77.6 L268.9,81.4 L271.4,86.4 L276.4,92.1 L281.4,90.2 L285.2,93.3 L291.5,93.7 L295.2,95.4 M53.5,108.0 L60.0,94.0 L68.4,81.4 M38.2,151.1 L50.5,152.3 M29.5,176.4 L27.5,181.0 L25.0,189.0 M219.7,56.1 L226.0,46.0 M249.8,73.7 L240.0,83.0 M252.0,61.0 L259.0,66.0 L268.0,71.4 L275.0,78.0 M295.2,95.4 L300.0,94.0 L308.0,91.0 M147.0,78.0 L152.0,70.0 L158.0,64.0 L166.0,60.0 M176.0,57.0 L177.0,69.0 L178.0,80.0 L180.0,92.0 M182.0,68.0 L188.0,62.0 L196.0,54.0" stroke="#fdbe46" stroke-width="7.4"/>
<path d="M29.5,176.4 L28.8,170.7 L30.1,163.2 L33.2,155.7 L38.2,150.6 L35.1,146.9 L40.1,139.3 L43.3,131.8 L46.4,124.3 L49.5,118.0 L53.3,109.0 L54.6,102.7 L53.9,98.3 L50.2,97.1 L49.5,93.3 L52.7,88.9 L57.1,86.4 L61.5,88.3 L65.9,86.4 L68.4,81.4 L69.6,75.1 L72.8,73.2 L80.3,75.1 L90.4,77.6 L96.0,80.2 L98.5,85.2 L102.3,88.3 L106.0,86.5 L106.7,80.2 L112.3,80.8 L118.6,80.2 L123.0,82.0 L128.6,84.0 L135.0,84.0 L141.2,82.0 L146.2,77.7 L151.2,73.9 L158.8,73.9 L162.5,76.4 L168.8,77.7 L174.5,78.9 L176.4,73.9 L176.4,68.9 L182.0,69.9 L188.3,68.3 L193.9,64.5 L199.6,63.3 L205.9,64.5 L210.9,60.1 L215.9,58.6 L222.2,61.4 L228.5,62.9 L233.5,68.3 L239.8,71.4 L249.8,73.9 L257.3,75.8 L266.4,77.6 L268.9,81.4 L271.4,86.4 L276.4,92.1 L281.4,90.2 L285.2,93.3 L291.5,93.7 L295.2,95.4 M53.5,108.0 L60.0,94.0 L68.4,81.4 M38.2,151.1 L50.5,152.3 M29.5,176.4 L27.5,181.0 L25.0,189.0 M219.7,56.1 L226.0,46.0 M249.8,73.7 L240.0,83.0 M252.0,61.0 L259.0,66.0 L268.0,71.4 L275.0,78.0 M295.2,95.4 L300.0,94.0 L308.0,91.0 M147.0,78.0 L152.0,70.0 L158.0,64.0 L166.0,60.0 M176.0,57.0 L177.0,69.0 L178.0,80.0 L180.0,92.0 M182.0,68.0 L188.0,62.0 L196.0,54.0" stroke="#fa9146" stroke-width="5.4"/>
<path d="M29.5,176.4 L28.8,170.7 L30.1,163.2 L33.2,155.7 L38.2,150.6 L35.1,146.9 L40.1,139.3 L43.3,131.8 L46.4,124.3 L49.5,118.0 L53.3,109.0 L54.6,102.7 L53.9,98.3 L50.2,97.1 L49.5,93.3 L52.7,88.9 L57.1,86.4 L61.5,88.3 L65.9,86.4 L68.4,81.4 L69.6,75.1 L72.8,73.2 L80.3,75.1 L90.4,77.6 L96.0,80.2 L98.5,85.2 L102.3,88.3 L106.0,86.5 L106.7,80.2 L112.3,80.8 L118.6,80.2 L123.0,82.0 L128.6,84.0 L135.0,84.0 L141.2,82.0 L146.2,77.7 L151.2,73.9 L158.8,73.9 L162.5,76.4 L168.8,77.7 L174.5,78.9 L176.4,73.9 L176.4,68.9 L182.0,69.9 L188.3,68.3 L193.9,64.5 L199.6,63.3 L205.9,64.5 L210.9,60.1 L215.9,58.6 L222.2,61.4 L228.5,62.9 L233.5,68.3 L239.8,71.4 L249.8,73.9 L257.3,75.8 L266.4,77.6 L268.9,81.4 L271.4,86.4 L276.4,92.1 L281.4,90.2 L285.2,93.3 L291.5,93.7 L295.2,95.4 M53.5,108.0 L60.0,94.0 L68.4,81.4 M38.2,151.1 L50.5,152.3 M29.5,176.4 L27.5,181.0 L25.0,189.0 M219.7,56.1 L226.0,46.0 M249.8,73.7 L240.0,83.0 M252.0,61.0 L259.0,66.0 L268.0,71.4 L275.0,78.0 M295.2,95.4 L300.0,94.0 L308.0,91.0 M147.0,78.0 L152.0,70.0 L158.0,64.0 L166.0,60.0 M176.0,57.0 L177.0,69.0 L178.0,80.0 L180.0,92.0 M182.0,68.0 L188.0,62.0 L196.0,54.0" stroke="#f23232" stroke-width="3.7"/>
</g>
<rect x="10" y="40" width="400" height="155" filter="url(#shade)" transform="skewX(-30)"/>
</g>
<path d="M29.5,176.4 L28.8,170.7 L30.1,163.2 L33.2,155.7 L38.2,150.6 L35.1,146.9 L40.1,139.3 L43.3,131.8 L46.4,124.3 L49.5,118.0 L53.3,109.0 L54.6,102.7 L53.9,98.3 L50.2,97.1 L49.5,93.3 L52.7,88.9 L57.1,86.4 L61.5,88.3 L65.9,86.4 L68.4,81.4 L69.6,75.1 L72.8,73.2 L80.3,75.1 L90.4,77.6 L96.0,80.2 L98.5,85.2 L102.3,88.3 L106.0,86.5 L106.7,80.2 L112.3,80.8 L118.6,80.2 L123.0,82.0 L128.6,84.0 L135.0,84.0 L141.2,82.0 L146.2,77.7 L151.2,73.9 L158.8,73.9 L162.5,76.4 L168.8,77.7 L174.5,78.9 L176.4,73.9 L176.4,68.9 L182.0,69.9 L188.3,68.3 L193.9,64.5 L199.6,63.3 L205.9,64.5 L210.9,60.1 L215.9,58.6 L222.2,61.4 L228.5,62.9 L233.5,68.3 L239.8,71.4 L249.8,73.9 L257.3,75.8 L266.4,77.6 L268.9,81.4 L271.4,86.4 L276.4,92.1 L281.4,90.2 L285.2,93.3 L291.5,93.7 L295.2,95.4" fill="none" stroke="#1e1eb4" stroke-width="1.4" stroke-linejoin="round" stroke-linecap="round"/>
<g fill="#e61414"><circle cx="48.3" cy="119.9" r="1.4"/><circle cx="43.3" cy="130.6" r="1.4"/><circle cx="41.4" cy="136.8" r="1.4"/><circle cx="32.3" cy="152.2" r="1.4"/><circle cx="30.1" cy="163.8" r="1.4"/><circle cx="28.8" cy="166.3" r="1.4"/><circle cx="26.1" cy="168.2" r="1.4"/><circle cx="29.5" cy="169.5" r="1.4"/><circle cx="28.6" cy="172.2" r="1.4"/><circle cx="36" cy="172.2" r="1.4"/><circle cx="48" cy="95.4" r="1.4"/><circle cx="51.7" cy="90.8" r="1.4"/><circle cx="56.1" cy="87" r="1.4"/><circle cx="67.8" cy="83.3" r="1.4"/><circle cx="69" cy="79.5" r="1.4"/><circle cx="75.9" cy="74.1" r="1.4"/><circle cx="81.3" cy="74.9" r="1.4"/><circle cx="84.1" cy="75.7" r="1.4"/><circle cx="86.6" cy="76.4" r="1.4"/><circle cx="96" cy="80.1" r="1.4"/><circle cx="107.3" cy="79.2" r="1.4"/><circle cx="110.8" cy="78.3" r="1.4"/><circle cx="115.1" cy="79.5" r="1.4"/><circle cx="120.7" cy="79.5" r="1.4"/><circle cx="125.8" cy="82.4" r="1.4"/><circle cx="129.9" cy="83.7" r="1.4"/><circle cx="137.2" cy="83.3" r="1.4"/><circle cx="138.4" cy="80.8" r="1.4"/><circle cx="142.2" cy="81.4" r="1.4"/><circle cx="149" cy="77" r="1.4"/><circle cx="153.1" cy="74.5" r="1.4"/><circle cx="175.7" cy="73.6" r="1.4"/><circle cx="175.7" cy="77.7" r="1.4"/><circle cx="203.3" cy="52.6" r="1.4"/><circle cx="204.6" cy="57.4" r="1.4"/><circle cx="207.1" cy="57" r="1.4"/><circle cx="190.2" cy="65.4" r="1.4"/><circle cx="195.8" cy="63.3" r="1.4"/><circle cx="260.5" cy="71.4" r="1.4"/><circle cx="267.4" cy="73.7" r="1.4"/><circle cx="259.2" cy="82.5" r="1.4"/><circle cx="256.4" cy="85.6" r="1.4"/><circle cx="270.8" cy="79.5" r="1.4"/><circle cx="280.8" cy="82.4" r="1.4"/><circle cx="283.3" cy="82" r="1.4"/><circle cx="277.4" cy="97.5" r="1.4"/><circle cx="304" cy="93.3" r="1.4"/></g><g fill="#961414"><rect x="99.6" y="85.3" width="2.8" height="2.8"/><rect x="130.4" y="82.3" width="2.8" height="2.8"/><rect x="230.8" y="57.5" width="2.8" height="2.8"/><rect x="235.2" y="56.8" width="2.8" height="2.8"/><rect x="207.1" y="61.1" width="2.8" height="2.8"/></g>
</g>
<text x="29.2" y="25.7" text-anchor="middle" style="font:8.4px 'Liberation Sans',sans-serif" fill="#000" stroke="#000" stroke-width="0.2">N</text><path d="M29.1,28.2 L23.2,45.4 L29.1,39.5 Z" fill="#000"/><path d="M29.1,28.2 L34.5,45.4 L29.1,39.5 Z" fill="#fff" stroke="#000" stroke-width="0.6" stroke-linejoin="miter"/>
<circle cx="64.4" cy="158.2" r="1.4" fill="#e01010"/>
<text class="lg" transform="translate(72,160.7) rotate(0.03)">Landslides training</text>
<rect x="62.9" y="168" width="3" height="3" fill="#8c1414"/>
<text class="lg" transform="translate(72,172.4) rotate(0.03)">Landslides validation</text>
<path d="M58.2,181 H69.8" stroke="#2e44c8" stroke-width="1.5"/>
<text class="lg" transform="translate(72,184) rotate(0.03)">Advanced highway</text>
<rect x="58.2" y="192.5" width="57.2" height="4.3" fill="#fff" stroke="#000" stroke-width="0.6"/>
<rect x="58.2" y="192.5" width="9.55" height="4.3" fill="#000"/>
<rect x="77.3" y="192.5" width="9.55" height="4.3" fill="#000"/>
<text class="lg" transform="translate(117.8,196.7) rotate(0.03)">Kilometers</text>
<text class="lg" text-anchor="middle" transform="translate(58.5,205.2) rotate(0.03)">0</text>
<text class="lg" text-anchor="middle" transform="translate(72.9,205.2) rotate(0.03)">2.5</text>
<text class="lg" text-anchor="middle" transform="translate(87.4,205.2) rotate(0.03)">5</text>
<text class="lg" text-anchor="middle" transform="translate(115.7,205.2) rotate(0.03)">10</text>
<text class="lg" style="word-spacing:3.3px" transform="translate(232.4,124.6) rotate(0.03)">Distance to road(m)</text>
<rect x="232.1" y="129.90" width="16.3" height="7.9" fill="#fa4b4b" stroke="#a8a078" stroke-width="0.5"/>
<text class="lg" transform="translate(251.1,136.70) rotate(0.03)"><tspan class="ltt" dy="1.0" dx="-0.5">&lt;</tspan><tspan dy="-1.0" dx="1.7">200</tspan></text>
<rect x="232.1" y="140.77" width="16.3" height="7.9" fill="#fa9146" stroke="#a8a078" stroke-width="0.5"/>
<text class="lg" transform="translate(251.1,147.57) rotate(0.03)">200- 400</text>
<rect x="232.1" y="151.64" width="16.3" height="7.9" fill="#fdbe46" stroke="#a8a078" stroke-width="0.5"/>
<text class="lg" transform="translate(251.1,158.44) rotate(0.03)">400 - 600</text>
<rect x="232.1" y="162.51" width="16.3" height="7.9" fill="#fafa4b" stroke="#a8a078" stroke-width="0.5"/>
<text class="lg" transform="translate(251.1,169.31) rotate(0.03)">600 - 800</text>
<rect x="232.1" y="173.38" width="16.3" height="7.9" fill="#d7fa46" stroke="#a8a078" stroke-width="0.5"/>
<text class="lg" transform="translate(251.1,180.18) rotate(0.03)">800 - 1,000</text>
<rect x="232.1" y="184.25" width="16.3" height="7.9" fill="#a0f046" stroke="#a8a078" stroke-width="0.5"/>
<text class="lg" transform="translate(251.1,191.05) rotate(0.03)">1,000- 1,200</text>
<rect x="232.1" y="195.12" width="16.3" height="7.9" fill="#4be64b" stroke="#a8a078" stroke-width="0.5"/>
<text class="lg" transform="translate(251.1,201.92) rotate(0.03)">≥1,200</text>
<text class="lg" text-anchor="middle" transform="translate(292.6,31.6) rotate(0.03)">(k)</text>
</g>
<text class="cap" x="165.5" y="251.8" text-anchor="middle">(<tspan class="b">i</tspan>)</text>
<text class="cap" x="525" y="251.8" text-anchor="middle">(j)</text>
<text class="cap" x="345.3" y="538" text-anchor="middle">(<tspan class="b">k</tspan>)</text>
</svg>
</body></html>
